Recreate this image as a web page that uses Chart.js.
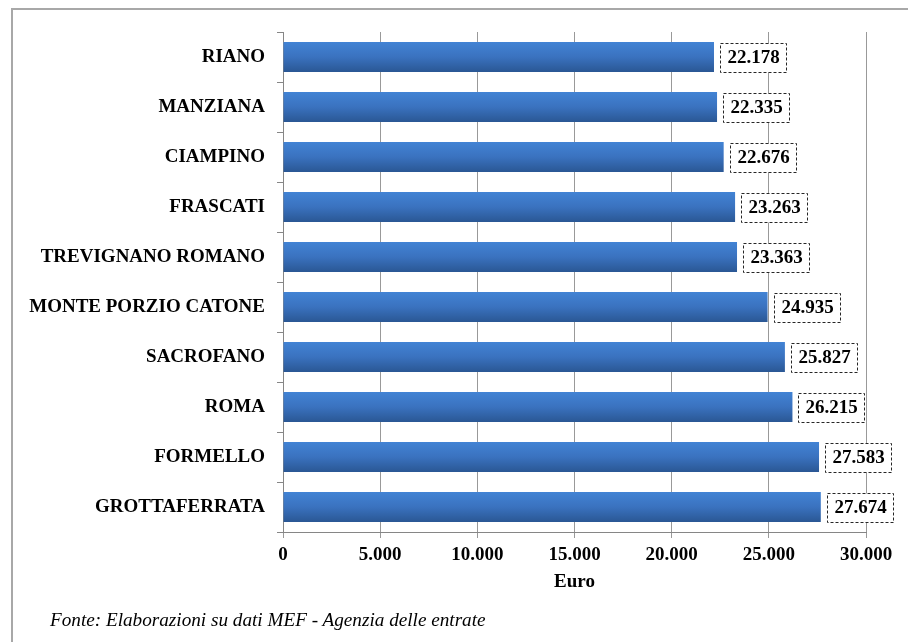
<!DOCTYPE html>
<html>
<head>
<meta charset="utf-8">
<script src="https://cdn.jsdelivr.net/npm/chart.js@4/dist/chart.umd.min.js"></script>
<style>
  html, body { margin: 0; padding: 0; background: #fff; width: 908px; height: 642px; overflow: hidden; }
  #frame { position: absolute; left: 11px; top: 8px; width: 1000px; height: 1000px; border-left: 2px solid #a8a8a8; border-top: 2px solid #a8a8a8; box-sizing: border-box; }
  #wrap { position: absolute; left: 0; top: 0; width: 908px; height: 642px; }
  #note { position: absolute; left: 50px; top: 609px; font-family: "Liberation Serif", "Times New Roman", serif; font-style: italic; font-size: 19.2px; color: #000; white-space: nowrap; }
</style>
</head>
<body>
<div id="frame"></div>
<div id="wrap"><canvas id="c" width="908" height="642"></canvas></div>
<div id="note">Fonte: Elaborazioni su dati MEF - Agenzia delle entrate</div>
<script>
const categories = ["RIANO", "MANZIANA", "CIAMPINO", "FRASCATI", "TREVIGNANO ROMANO", "MONTE PORZIO CATONE", "SACROFANO", "ROMA", "FORMELLO", "GROTTAFERRATA"];
const values = [22178, 22335, 22676, 23263, 23363, 24935, 25827, 26215, 27583, 27674];
const axisTitle = "Euro";

const FONT = '"Liberation Serif", "Times New Roman", serif';
function fmt(v) {
  return String(Math.round(v)).replace(/\B(?=(\d{3})+(?!\d))/g, ".");
}

const labelPlugin = {
  id: 'boxLabels',
  afterDatasetsDraw(chart) {
    const ctx = chart.ctx;
    const meta = chart.getDatasetMeta(0);
    ctx.save();
    ctx.font = 'bold 19px ' + FONT;
    ctx.textBaseline = 'middle';
    ctx.textAlign = 'left';
    meta.data.forEach((el, i) => {
      const txt = fmt(chart.data.datasets[0].data[i]);
      const w = ctx.measureText(txt).width;
      const bx = Math.round(el.x + 6) + 0.5;
      const bw = Math.round(w + 14);
      const bh = 29;
      const by = Math.round(el.y - bh / 2) + 0.5;
      ctx.fillStyle = '#ffffff';
      ctx.fillRect(bx, by, bw, bh);
      ctx.setLineDash([3, 2]);
      ctx.strokeStyle = '#262626';
      ctx.lineWidth = 1;
      ctx.strokeRect(bx, by, bw, bh);
      ctx.setLineDash([]);
      ctx.fillStyle = '#000';
      ctx.fillText(txt, bx + 7, el.y + 1);
    });
    ctx.restore();
  }
};

const chart = new Chart(document.getElementById('c'), {
  type: 'bar',
  data: {
    labels: categories,
    datasets: [{
      data: values,
      backgroundColor: (c) => {
        const ch = c.chart;
        const ys = ch.scales && ch.scales.y;
        if (!ys || c.dataIndex === undefined) return '#3a70b8';
        const y = ys.getPixelForValue(c.dataIndex);
        const band = (ys.bottom - ys.top) / categories.length;
        const t = band * 0.6;
        if (!isFinite(y) || !isFinite(t) || t <= 0) return '#3a70b8';
        const g = ch.ctx.createLinearGradient(0, y - t / 2, 0, y + t / 2);
        g.addColorStop(0, '#4283d4');
        g.addColorStop(0.5, '#3a72bf');
        g.addColorStop(1, '#2a5794');
        return g;
      },
      borderWidth: 0,
      barPercentage: 0.6,
      categoryPercentage: 1.0
    }]
  },
  options: {
    indexAxis: 'y',
    responsive: false,
    animation: false,
    devicePixelRatio: 1,
    layout: { padding: { left: 0, right: 42, top: 32, bottom: 40 } },
    plugins: { legend: { display: false }, tooltip: { enabled: false } },
    scales: {
      x: {
        min: 0, max: 30000,
        afterFit: (s) => { s.height = 70; },
        ticks: {
          stepSize: 5000,
          color: '#000',
          padding: 6,
          font: { family: FONT, size: 19, weight: 'bold' },
          callback: (v) => fmt(v)
        },
        grid: { color: '#999999', lineWidth: 1, tickLength: 6, drawTicks: true },
        border: { color: '#868686', width: 1 },
        title: {
          display: true, text: axisTitle, color: '#000',
          font: { family: FONT, size: 19, weight: 'bold' },
          padding: { top: 4, bottom: 9 }
        }
      },
      y: {
        afterFit: (s) => { s.width = 283; },
        ticks: {
          color: '#000',
          padding: 12,
          font: { family: FONT, size: 19, weight: 'bold' }
        },
        grid: { drawOnChartArea: false, drawTicks: true, tickLength: 6, color: '#868686', offset: true },
        border: { color: '#868686', width: 1 }
      }
    }
  },
  plugins: [labelPlugin]
});
</script>
</body>
</html>
